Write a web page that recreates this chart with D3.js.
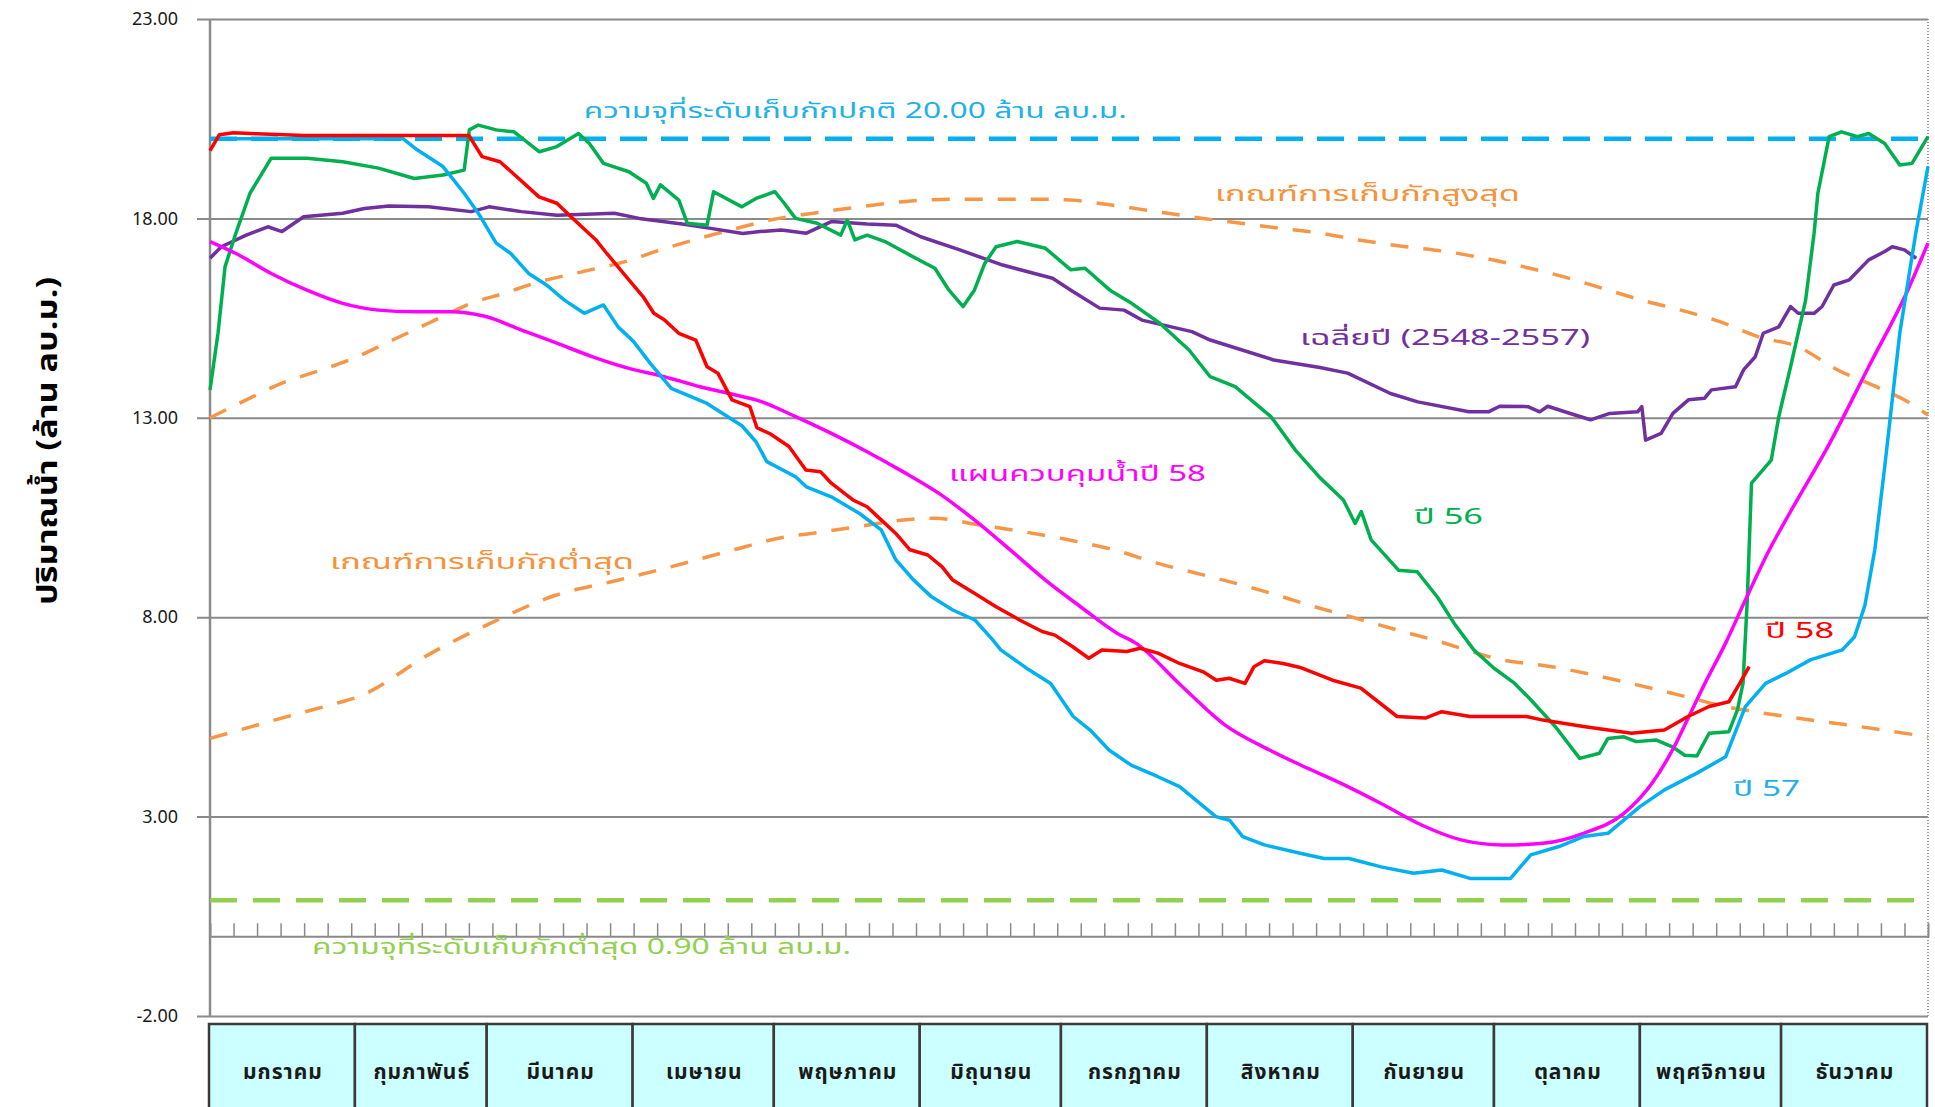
<!DOCTYPE html>
<html lang="th">
<head>
<meta charset="utf-8">
<title>ปริมาณน้ำ</title>
<script src="https://d3js.org/d3.v7.min.js"></script>
<style>
  body { margin: 0; background: #fff; }
  svg text { font-family: Tahoma, "Noto Sans Thai", "Noto Sans", "DejaVu Sans", sans-serif; }
</style>
</head>
<body>
<div id="chart"></div>
<script>
// months shown in the table under the chart
const months = ["มกราคม", "กุมภาพันธ์", "มีนาคม", "เมษายน", "พฤษภาคม", "มิถุนายน",
  "กรกฎาคม", "สิงหาคม", "กันยายน", "ตุลาคม", "พฤศจิกายน", "ธันวาคม"];
const monthDays = [31, 28, 31, 30, 31, 30, 31, 31, 30, 31, 30, 31];
const yTicks = [-2, 3, 8, 13, 18, 23];

const normalLevel = 20.0;
const minLevel = 0.9;

// [day of year, million m3]
const ruleUpper = [[0,13.0],[7.7,13.45],[15.3,13.87],[23.7,14.2],[31.2,14.53],[38.8,14.95],[46.4,15.37],
  [55.5,15.87],[62.4,16.12],[70,16.41],[79,16.66],[88,16.91],[95.7,17.21],[104,17.5],[113.2,17.79],
  [119,17.96],[128.2,18.13],[138,18.29],[147.2,18.42],[157,18.48],[177.5,18.48],[183,18.46],
  [191.2,18.34],[201,18.17],[211,18.0],[219,17.88],[227.6,17.75],[235.8,17.63],[244,17.46],
  [254,17.29],[262.5,17.17],[270.8,17.0],[279,16.79],[287.5,16.54],[295.7,16.25],[304.2,15.95],
  [312.5,15.7],[320.8,15.41],[329,15.03],[337.4,14.78],[345.8,14.2],[354,13.78],[360.7,13.4],[365,13.07]];

const ruleLower = [[0,4.96],[9.2,5.27],[19,5.59],[26.2,5.82],[31.4,6.0],[47,7.1],[60,7.87],
  [73.4,8.55],[85.7,8.9],[95.2,9.18],[111.3,9.69],[120.8,9.98],[130.2,10.14],[139.8,10.31],
  [147.4,10.44],[154,10.48],[163.5,10.31],[173,10.14],[182.4,9.94],[192,9.69],[201.4,9.35],
  [211,9.06],[220.4,8.77],[229,8.47],[233.3,8.31],[243.6,7.97],[252.2,7.68],[260,7.43],
  [274.6,6.93],[285,6.76],[300.4,6.38],[310.7,6.09],[322,5.76],[334.8,5.51],[350.3,5.26],
  [362.3,5.05],[365,5.0]];

const avgYears = [[0,17.0],[2.4,17.29],[7.7,17.58],[12.3,17.79],[15.3,17.67],[19.9,18.04],[28.2,18.13],
  [32.8,18.25],[38,18.31],[46.4,18.29],[55.5,18.17],[59.3,18.29],[66.2,18.17],[73.7,18.08],
  [85.9,18.13],[91.2,18.0],[100.3,17.86],[106.4,17.75],[113.2,17.62],[116.8,17.67],[121.4,17.71],
  [126.7,17.63],[132,17.92],[139.6,17.86],[145.7,17.83],[151,17.54],[159.3,17.21],[168.4,16.83],
  [179,16.5],[182.9,16.2],[189,15.75],[194.2,15.7],[198,15.45],[208.6,15.16],[212.5,14.95],
  [226,14.45],[235.8,14.26],[241.7,14.12],[250.8,13.61],[256.6,13.4],[267.5,13.15],[271.6,13.15],
  [274,13.29],[280,13.28],[282.5,13.15],[284.2,13.29],[290,13.07],[293.3,12.95],[297.4,13.11],
  [303.3,13.15],[304.2,13.28],[305,12.44],[308.3,12.61],[310.8,13.11],[314.1,13.45],[317.5,13.49],
  [319,13.7],[324.1,13.78],[325.8,14.2],[328.3,14.53],[330,15.12],[333.3,15.28],[335.8,15.79],
  [337.4,15.62],[340.8,15.62],[342.5,15.79],[345,16.33],[348.3,16.46],[352.4,16.96],[355.8,17.17],
  [357.4,17.29],[360,17.21],[362.5,17.0]];

const year56 = [[0,13.7],[1.7,15.12],[3.2,16.79],[5.5,17.63],[8.5,18.63],[13,19.51],[20.6,19.51],
  [28.2,19.42],[35.8,19.26],[43.4,19.0],[49.5,19.09],[54,19.21],[55.1,20.22],[57,20.34],[60.8,20.22],
  [64.6,20.17],[70,19.67],[73.7,19.8],[78.3,20.13],[80.6,19.88],[83.6,19.38],[89,19.17],[92.7,18.88],
  [94.2,18.5],[95.7,18.84],[99.6,18.46],[101.4,17.88],[105.6,17.83],[107,18.67],[113,18.29],
  [116,18.5],[120,18.67],[122,18.38],[124.4,18.0],[129,17.88],[134,17.58],[135.4,17.96],[137,17.46],
  [139.6,17.58],[143.4,17.42],[148.7,17.08],[154,16.75],[157,16.2],[160,15.79],[162.4,16.2],
  [164.6,16.87],[167,17.29],[171.5,17.42],[177.5,17.25],[182.9,16.71],[185.9,16.75],[191.2,16.2],
  [195.8,15.87],[201.8,15.37],[208,14.7],[212.5,14.03],[217.8,13.78],[225.4,13.03],[230.6,12.19],
  [235.8,11.5],[240.8,10.94],[243.3,10.35],[244.6,10.65],[246.7,9.94],[252.5,9.18],[256.5,9.14],
  [260.8,8.5],[264.3,7.85],[268.5,7.18],[272.8,6.72],[277.2,6.34],[280.6,5.93],[285.8,5.26],
  [291,4.46],[295.2,4.59],[297,4.96],[300.4,5.0],[303,4.88],[307.3,4.92],[310.7,4.75],[313.3,4.54],
  [315.9,4.52],[318.5,5.09],[322.7,5.13],[324.5,5.67],[325.7,6.34],[326.6,8.43],[327.5,11.36],
  [331.7,11.94],[333.3,13.03],[335.8,14.28],[339,15.95],[340.8,17.63],[341.6,18.63],[344,20.05],
  [346.6,20.17],[350,20.05],[352.4,20.13],[355.8,19.88],[359,19.34],[361.6,19.38],[365,20.05]];

const year57 = [[0,20.0],[41,20.0],[44,19.72],[49.5,19.3],[54,18.63],[57,18.13],[60.8,17.38],
  [63.9,17.12],[67.7,16.62],[71.5,16.33],[75.3,15.95],[79.5,15.62],[83.6,15.83],[86.7,15.28],
  [90,14.91],[93.5,14.37],[98,13.74],[105.6,13.36],[113,12.8],[116,12.4],[118.3,11.9],[124.4,11.52],
  [126.7,11.27],[132,11.02],[138,10.6],[142.6,10.19],[145.7,9.44],[149.5,8.93],[153.3,8.51],
  [157.8,8.18],[162.5,7.93],[166.3,7.43],[168,7.18],[174,6.68],[178.6,6.34],[183.4,5.51],[187,5.17],
  [191,4.67],[195.7,4.29],[201.4,4.0],[206,3.75],[213.7,3.0],[216.6,2.91],[219.4,2.5],[224,2.29],
  [231.6,2.08],[236.7,1.95],[242,1.95],[248.8,1.74],[255.7,1.58],[261.7,1.66],[267.7,1.45],
  [276.3,1.45],[280.6,2.04],[286.6,2.25],[291.8,2.5],[297,2.58],[303.8,3.25],[309,3.67],
  [315.9,4.09],[322,4.5],[326.2,5.76],[330.5,6.34],[334.8,6.59],[340,6.93],[346.8,7.18],
  [349.4,7.51],[351.6,8.3],[353.7,9.69],[355.8,11.77],[359,15.12],[362.4,17.63],[365,19.3]];

const year58 = [[0,19.7],[2,20.1],[5,20.15],[10,20.12],[20,20.08],[40,20.08],[55,20.08],[57.8,19.55],
  [61.6,19.42],[64,19.17],[69.9,18.54],[73.7,18.38],[76.7,18.04],[82,17.46],[84.3,17.12],[89,16.46],
  [92,16.04],[94.3,15.62],[96.5,15.46],[99.6,15.12],[103.2,14.95],[105.6,14.28],[107.9,14.12],
  [110.9,13.45],[114.7,13.28],[116.2,12.75],[119,12.6],[123,12.28],[126.6,11.69],[129.7,11.65],
  [132,11.36],[136.6,10.94],[139.6,10.77],[142.6,10.44],[145.7,10.1],[148.7,9.69],[152.5,9.56],
  [155.5,9.27],[157.8,8.93],[162.4,8.6],[167,8.26],[172,7.93],[176.8,7.64],[179.5,7.55],[183.3,7.26],
  [186.7,6.97],[189.5,7.18],[194.8,7.14],[197.6,7.22],[201.4,7.1],[206,6.84],[211,6.63],[213.8,6.42],
  [216.5,6.47],[219.9,6.34],[221.8,6.76],[224,6.91],[228,6.84],[231.6,6.74],[238.5,6.42],
  [244.5,6.22],[252.2,5.51],[258.2,5.47],[261.7,5.63],[267.7,5.51],[279.7,5.51],[283.2,5.42],
  [291.8,5.26],[302,5.09],[309,5.17],[314,5.51],[318.5,5.76],[322.7,5.88],[325,6.34],[327,6.76]];

const plan58 = [[0,17.42],[5.5,17.12],[13,16.62],[20.6,16.2],[28.2,15.87],[35.8,15.7],[43.4,15.66],
  [51,15.66],[58.6,15.54],[66.2,15.2],[73.7,14.87],[81.3,14.53],[89,14.24],[96.5,14.03],[104.1,13.78],
  [111.7,13.57],[116.8,13.42],[124.4,13.03],[132,12.61],[139.6,12.15],[147.2,11.65],[154.8,11.11],
  [162.4,10.44],[170,9.69],[177.5,8.93],[185.1,8.25],[192.7,7.6],[196.7,7.35],[206.2,6.3],
  [215.6,5.3],[225.1,4.67],[231.6,4.3],[240.2,3.84],[248.8,3.33],[257.4,2.79],[266,2.41],
  [274.6,2.29],[283.2,2.33],[291.8,2.58],[300.4,3.08],[306.4,3.84],[310.7,4.67],[314.2,5.51],
  [317.6,6.34],[322,7.35],[326.2,8.43],[331.3,9.69],[335.8,10.65],[344.1,12.36],[352.4,14.28],
  [360.7,16.2],[365,17.38]];

// text labels: [text, day, value, colour, width]
const labels = [
  ["ความจุที่ระดับเก็บกักปกติ 20.00 ล้าน ลบ.ม.", 79.4, 20.69, "#1fb1ea", 543],
  ["เกณฑ์การเก็บกักสูงสุด", 213.5, 18.61, "#f7923a", 305],
  ["เฉลี่ยปี (2548-2557)", 231.6, 15.0, "#7030a0", 290],
  ["แผนควบคุมน้ำปี 58", 157, 11.57, "#ff00ff", 257],
  ["ปี 56", 255.8, 10.51, "#00b050", 69],
  ["เกณฑ์การเก็บกักต่ำสุด", 25.5, 9.36, "#f7923a", 304],
  ["ปี 58", 330.4, 7.63, "#ff0000", 69],
  ["ปี 57", 323.6, 3.67, "#1fb1ea", 67],
  ["ความจุที่ระดับเก็บกักต่ำสุด 0.90 ล้าน ลบ.ม.", 21.7, -0.29, "#92d050", 539]
];

const W = 1935, H = 1107;
const svg = d3.select("#chart").append("svg").attr("width", W).attr("height", H);

const x = d3.scaleLinear().domain([0, 365]).range([210, 1928]);
const y = d3.scaleLinear().domain([-2, 23]).range([1016, 19]);

// gridlines + y labels
const yAxis = svg.append("g")
  .attr("transform", "translate(197,0)")
  .call(d3.axisLeft(y).tickValues(yTicks).tickSize(-(1928 - 197)).tickPadding(19)
    .tickFormat(d3.format(".2f")));
yAxis.select(".domain").remove();
yAxis.selectAll("line").attr("stroke", "#8a8a8a").attr("stroke-width", 2);
yAxis.selectAll("text").attr("fill", "#1a1a1a").style("font-size", "18px");

// left axis line
svg.append("line").attr("x1", x(0)).attr("x2", x(0)).attr("y1", y(23)).attr("y2", y(-2))
  .attr("stroke", "#8a8a8a").attr("stroke-width", 2.5);
// right border (dotted)
svg.append("line").attr("x1", x(365)).attr("x2", x(365)).attr("y1", y(23)).attr("y2", y(-2))
  .attr("stroke", "#9a9a9a").attr("stroke-width", 2).attr("stroke-dasharray", "1,2");

// zero axis with small ticks
const xAxis = svg.append("g")
  .attr("transform", `translate(0,${y(0)})`)
  .call(d3.axisBottom(x).tickValues(d3.range(5, 365, 5)).tickSize(-13).tickFormat(""));
xAxis.select(".domain").attr("stroke", "#8a8a8a").attr("stroke-width", 2);
xAxis.selectAll("line").attr("stroke", "#8a8a8a").attr("stroke-width", 1.5);

const line = d3.line().x(d => x(d[0])).y(d => y(d[1]));
const smooth = d3.line().x(d => x(d[0])).y(d => y(d[1])).curve(d3.curveMonotoneX);

// reference levels
svg.append("line").attr("x1", x(0)).attr("x2", x(365)).attr("y1", y(normalLevel)).attr("y2", y(normalLevel))
  .attr("stroke", "#00b0f0").attr("stroke-width", 4.5).attr("stroke-dasharray", "27,14");
svg.append("line").attr("x1", x(0)).attr("x2", x(365)).attr("y1", y(minLevel)).attr("y2", y(minLevel))
  .attr("stroke", "#92d050").attr("stroke-width", 4.5).attr("stroke-dasharray", "27,16");

[ruleUpper, ruleLower].forEach(s => {
  svg.append("path").datum(s).attr("d", smooth).attr("fill", "none")
    .attr("stroke", "#f79646").attr("stroke-width", 3.5).attr("stroke-dasharray", "18,15");
});

const series = [
  [avgYears, "#7030a0", line],
  [year56, "#00b050", line],
  [plan58, "#ff00ff", smooth],
  [year57, "#00b0f0", line],
  [year58, "#ff0000", line]
];
series.forEach(([s, c, gen]) => {
  svg.append("path").datum(s).attr("d", gen).attr("fill", "none")
    .attr("stroke", c).attr("stroke-width", 3.5).attr("stroke-linejoin", "round");
});

// labels
svg.selectAll(".lbl").data(labels).enter().append("text")
  .attr("class", "lbl")
  .attr("x", d => x(d[1])).attr("y", d => y(d[2]))
  .attr("dominant-baseline", "central")
  .attr("fill", d => d[3])
  .attr("textLength", d => d[4]).attr("lengthAdjust", "spacingAndGlyphs")
  .style("font-size", "21px")
  .text(d => d[0]);

// y axis title
svg.append("text")
  .attr("transform", `translate(48,${y(12.42)}) rotate(-90)`)
  .attr("text-anchor", "middle").attr("dominant-baseline", "central")
  .attr("textLength", 328).attr("lengthAdjust", "spacingAndGlyphs")
  .style("font-size", "29px").style("font-weight", "bold").attr("fill", "#000")
  .text("ปริมาณน้ำ (ล้าน ลบ.ม.)");

// month table
const starts = d3.cumsum([0, ...monthDays]);
const cells = months.map((m, i) => ({ m, a: starts[i], b: starts[i + 1] }));
const table = svg.append("g");
table.selectAll("rect").data(cells).enter().append("rect")
  .attr("x", d => x(d.a) - 1).attr("y", 1024)
  .attr("width", d => x(d.b) - x(d.a)).attr("height", 100)
  .attr("fill", "#ccffff").attr("stroke", "#3a3a3a").attr("stroke-width", 2.5);
table.selectAll("text").data(cells).enter().append("text")
  .attr("x", d => (x(d.a) + x(d.b)) / 2).attr("y", 1072)
  .attr("text-anchor", "middle").attr("dominant-baseline", "central")
  .style("font-size", "21px").style("font-weight", "bold").style("letter-spacing", "1px")
  .attr("fill", "#1a1a1a")
  .text(d => d.m);
</script>
</body>
</html>
